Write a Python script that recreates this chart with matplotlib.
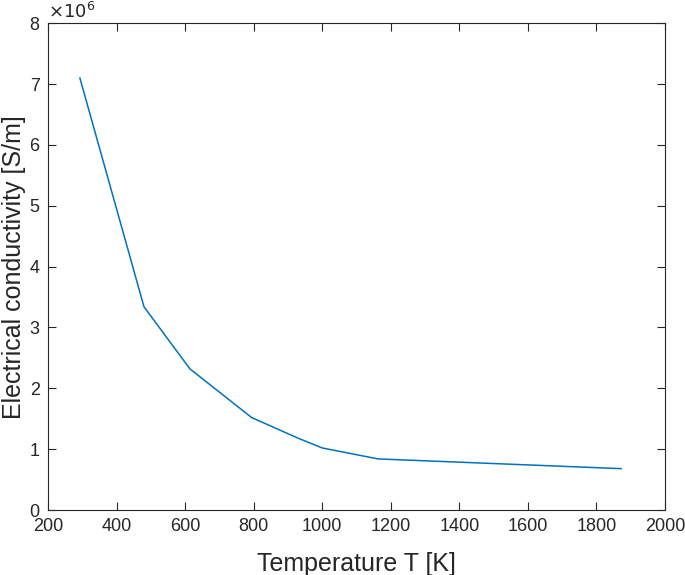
import numpy as np
import matplotlib
matplotlib.use("Agg")
import matplotlib.pyplot as plt
from matplotlib.ticker import FuncFormatter

# temperature [K] and electrical conductivity [S/m]
T = [293, 480, 614, 794, 930, 1000, 1163, 1872]
sigma = [7.10e6, 3.34e6, 2.32e6, 1.52e6, 1.18e6, 1.02e6, 0.84e6, 0.68e6]

xticks = [200, 400, 600, 800, 1000, 1200, 1400, 1600, 1800, 2000]
yticks = [0, 1e6, 2e6, 3e6, 4e6, 5e6, 6e6, 7e6, 8e6]

GREY = "#262626"
plt.rcParams["font.family"] = ["Liberation Sans", "DejaVu Sans"]

fig = plt.figure(figsize=(6.85, 5.75), dpi=100)
ax = fig.add_axes([0.0701, 0.1130, 0.9007, 0.8465])
ax.plot(T, sigma, color="#0072BD", lw=1.1)

ax.set_xlim(200, 2000); ax.set_ylim(0, 8e6)
ax.set_xticks(xticks); ax.set_yticks(yticks)
ax.yaxis.set_major_formatter(FuncFormatter(lambda v, p: f"{v/1e6:g}"))
ax.tick_params(direction="in", top=True, right=True, length=6, width=0.8,
               colors=GREY, labelsize=13)
ax.tick_params(axis="x", pad=6)
ax.tick_params(axis="y", pad=6)
for s in ax.spines.values():
    s.set_color(GREY); s.set_linewidth(0.8)

ax.text(0.0, 1.003, r"$\times10^{6}$", transform=ax.transAxes, fontsize=13,
        color=GREY, ha="left", va="bottom")
ax.set_xlabel("Temperature T [K]", fontsize=18, color=GREY, labelpad=12)
ax.set_ylabel("Electrical conductivity [S/m]", fontsize=18, color=GREY)
ax.yaxis.set_label_coords(-0.036, 0.5)

fig.savefig("out.png", dpi=100)
